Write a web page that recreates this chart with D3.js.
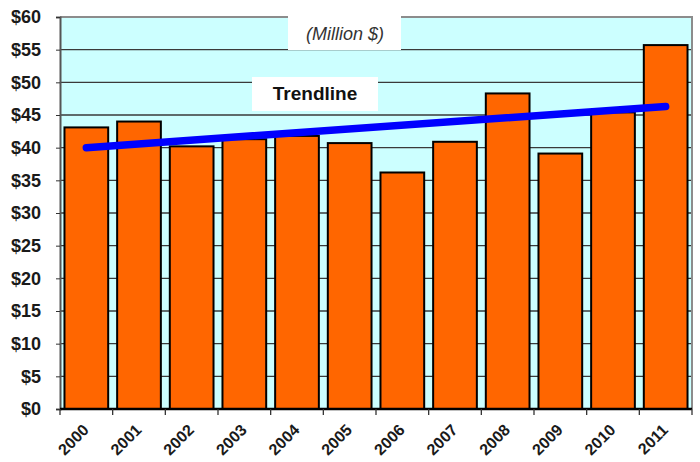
<!DOCTYPE html>
<html>
<head>
<meta charset="utf-8">
<script src="https://cdn.jsdelivr.net/npm/d3@7"></script>
<style>
    body { margin: 0; background: white; }
    svg { display: block; font-family: Arial, 'Liberation Sans', sans-serif; }
</style>
</head>
<body>
<script>

const years = ['2000', '2001', '2002', '2003', '2004', '2005', '2006', '2007', '2008', '2009', '2010', '2011']
const amounts = [43.1, 44.0, 40.2, 41.3, 41.8, 40.7, 36.2, 40.9, 48.3, 39.1, 45.4, 55.7]
const trendYears = ['2000', '2011']
const trendValues = [40.0, 46.3]
const yTicks = [0, 5, 10, 15, 20, 25, 30, 35, 40, 45, 50, 55, 60]

const width = 700
const height = 462
const plot = {left: 60, top: 17, right: 692, bottom: 409}

const svg = d3.select('body')
    .append('svg')
    .attr('width', width)
    .attr('height', height)

const x = d3.scaleBand()
    .domain(years)
    .range([plot.left, plot.right])
    .paddingInner(0.17)
    .paddingOuter(0.085)

const y = d3.scaleLinear()
    .domain([0, 60])
    .range([plot.bottom, plot.top])

// background
svg.append('rect')
    .attr('x', plot.left)
    .attr('y', plot.top)
    .attr('width', plot.right - plot.left)
    .attr('height', plot.bottom - plot.top)
    .attr('fill', '#ccffff')

// gridlines
svg.append('g')
    .selectAll('line')
    .data(yTicks.filter(t => t > 0 && t < 60))
    .join('line')
    .attr('x1', plot.left)
    .attr('x2', plot.right)
    .attr('y1', d => y(d))
    .attr('y2', d => y(d))
    .attr('stroke', '#3a3a3a')
    .attr('stroke-width', 1.3)

// top and right border
svg.append('path')
    .attr('d', `M${plot.left},${plot.top}H${plot.right}V${plot.bottom}`)
    .attr('fill', 'none')
    .attr('stroke', '#8c8c8c')
    .attr('stroke-width', 2)

// bars
svg.append('g')
    .selectAll('rect')
    .data(years)
    .join('rect')
    .attr('x', d => x(d))
    .attr('y', (d, i) => y(amounts[i]))
    .attr('width', x.bandwidth())
    .attr('height', (d, i) => y(0) - y(amounts[i]))
    .attr('fill', '#ff6600')
    .attr('stroke', '#000')
    .attr('stroke-width', 2)

// y axis
const yAxis = svg.append('g')
    .attr('transform', `translate(${plot.left},0)`)
    .call(d3.axisLeft(y).tickValues(yTicks).tickSize(4).tickPadding(15).tickFormat(d => '$' + d))

yAxis.select('.domain').attr('stroke', '#555').attr('stroke-width', 2)
yAxis.selectAll('.tick line').attr('stroke', '#333')
yAxis.selectAll('text')
    .attr('font-size', 18)
    .attr('font-weight', 'bold')
    .attr('fill', '#1a1a1a')
    .attr('font-family', 'Arial, Liberation Sans, sans-serif')

// x axis, ticks on category boundaries
const xAxis = svg.append('g')
    .attr('transform', `translate(0,${plot.bottom})`)

xAxis.append('line')
    .attr('x1', plot.left)
    .attr('x2', plot.right)
    .attr('stroke', '#000')
    .attr('stroke-width', 2.5)

xAxis.selectAll('.bound')
    .data(years.concat(['end']))
    .join('line')
    .attr('class', 'bound')
    .attr('x1', (d, i) => plot.left + i * x.step())
    .attr('x2', (d, i) => plot.left + i * x.step())
    .attr('y1', 0)
    .attr('y2', 6)
    .attr('stroke', '#333')
    .attr('stroke-width', 1.3)

xAxis.selectAll('text')
    .data(years)
    .join('text')
    .attr('transform', d => `translate(${x(d) + x.bandwidth() / 2 + 3.5},${22}) rotate(-45)`)
    .attr('text-anchor', 'end')
    .attr('font-size', 16)
    .attr('font-weight', 'bold')
    .attr('fill', '#1a1a1a')
    .text(d => d)

// unit label box
svg.append('rect')
    .attr('x', 288)
    .attr('y', 16)
    .attr('width', 113)
    .attr('height', 34)
    .attr('fill', 'white')

svg.append('text')
    .attr('x', 345)
    .attr('y', 39.5)
    .attr('text-anchor', 'middle')
    .attr('font-size', 18)
    .attr('font-style', 'italic')
    .attr('fill', '#333')
    .text('(Million $)')

// trendline label
svg.append('rect')
    .attr('x', 252)
    .attr('y', 77)
    .attr('width', 126)
    .attr('height', 34)
    .attr('fill', 'white')

svg.append('text')
    .attr('x', 315)
    .attr('y', 100)
    .attr('text-anchor', 'middle')
    .attr('font-size', 19)
    .attr('font-weight', 'bold')
    .attr('fill', '#111')
    .text('Trendline')

// trendline
const line = d3.line()
    .x(d => x(d.year) + x.bandwidth() / 2)
    .y(d => y(d.value))

svg.append('path')
    .datum(trendYears.map((yr, i) => ({year: yr, value: trendValues[i]})))
    .attr('d', line)
    .attr('fill', 'none')
    .attr('stroke', '#0000ff')
    .attr('stroke-width', 7.5)
    .attr('stroke-linecap', 'round')

</script>
</body>
</html>
